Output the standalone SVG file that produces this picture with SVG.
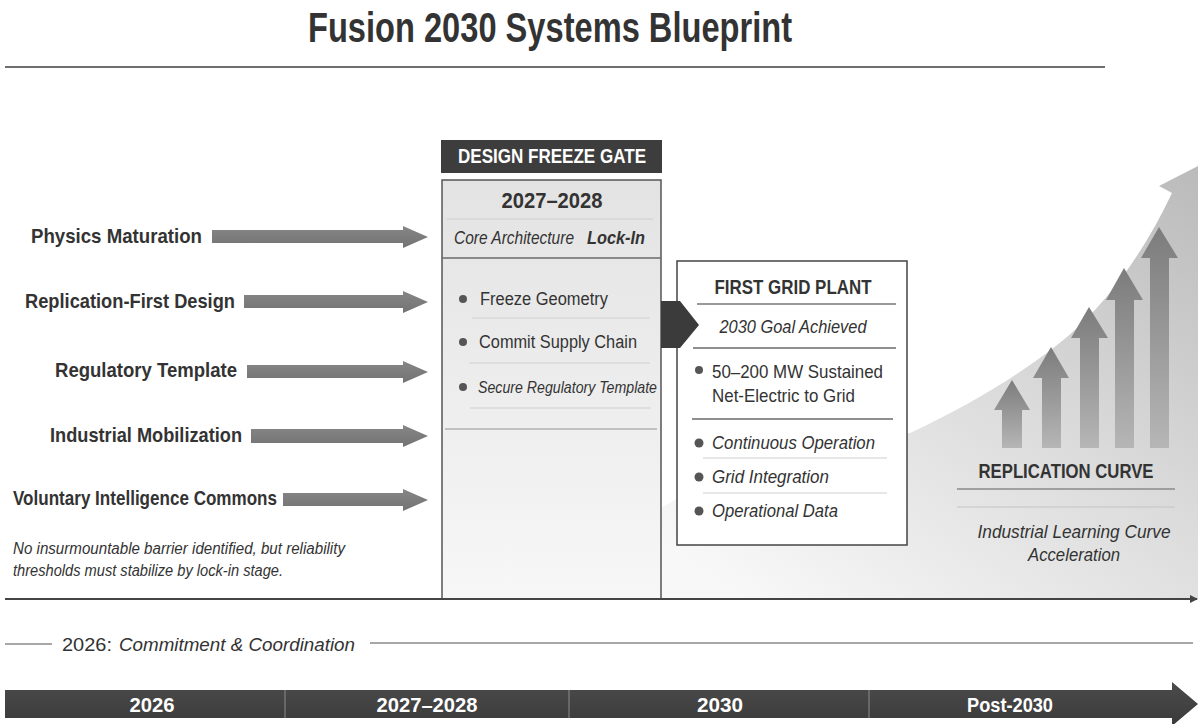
<svg xmlns="http://www.w3.org/2000/svg" width="1198" height="724" viewBox="0 0 1198 724">
  <defs>
    <style>
      .t { font-family: "Liberation Sans Narrow", "Liberation Sans", Arial, sans-serif; fill: #333333; }
      .b { font-weight: bold; }
      .i { font-style: italic; }
      .w { fill: #ffffff; }
      .rule-dark { stroke: #6a6a6a; stroke-width: 1.5; }
      .rule-light { stroke: #cfcfcf; stroke-width: 1.2; }
      .dot { fill: #555555; }
      .flow { fill: url(#shaftGrad); }
      .rise { fill: url(#riseGrad); }
    </style>
    <linearGradient id="shaftGrad" x1="0" y1="0" x2="0" y2="1">
      <stop offset="0" stop-color="#868686"/>
      <stop offset="1" stop-color="#737373"/>
    </linearGradient>
    <linearGradient id="gateGrad" x1="0" y1="0" x2="0" y2="1">
      <stop offset="0" stop-color="#e3e3e3"/>
      <stop offset="1" stop-color="#f7f7f7"/>
    </linearGradient>
    <linearGradient id="swooshGrad" x1="1" y1="0" x2="0.15" y2="1">
      <stop offset="0" stop-color="#bababa"/>
      <stop offset="0.5" stop-color="#dcdcdc"/>
      <stop offset="1" stop-color="#f8f8f8"/>
    </linearGradient>
    <linearGradient id="riseGrad" x1="0" y1="0" x2="0" y2="1">
      <stop offset="0" stop-color="#7c7c7c"/>
      <stop offset="1" stop-color="#b6b6b6"/>
    </linearGradient>
    <linearGradient id="barGrad" x1="0" y1="0" x2="0" y2="1">
      <stop offset="0" stop-color="#4b4b4b"/>
      <stop offset="1" stop-color="#3a3a3a"/>
    </linearGradient>
    <marker id="axisHead" markerWidth="8" markerHeight="8" refX="7" refY="4" orient="auto" markerUnits="userSpaceOnUse">
      <path d="M0,0 L8,4 L0,8 Z" fill="#444444"/>
    </marker>
  </defs>

  <rect width="1198" height="724" fill="#ffffff"/>

  <!-- title -->
  <g id="title">
    <text class="t b" x="550" y="42" font-size="42" text-anchor="middle" textLength="484" lengthAdjust="spacingAndGlyphs">Fusion 2030 Systems Blueprint</text>
    <line x1="5" y1="67" x2="1105" y2="67" stroke="#6e6e6e" stroke-width="2"/>
  </g>

  <!-- rising swoosh behind the right half -->
  <g id="replication-swoosh">
    <path d="M661,599 L661,508 C720,470 820,445 910,433 C970,405 1025,372 1067,337 C1110,300 1145,250 1172,193 L1159,186 L1198,166 L1200,166 L1200,599 Z" fill="url(#swooshGrad)"/>
  </g>

  <!-- driver labels -->
  <g id="driver-physics">
    <text class="t b" x="202" y="243" font-size="21" text-anchor="end" textLength="171" lengthAdjust="spacingAndGlyphs">Physics Maturation</text>
  </g>
  <g id="driver-replication">
    <text class="t b" x="235" y="308" font-size="21" text-anchor="end" textLength="210" lengthAdjust="spacingAndGlyphs">Replication-First Design</text>
  </g>
  <g id="driver-regulatory">
    <text class="t b" x="237" y="377" font-size="21" text-anchor="end" textLength="182" lengthAdjust="spacingAndGlyphs">Regulatory Template</text>
  </g>
  <g id="driver-industrial">
    <text class="t b" x="242" y="442" font-size="21" text-anchor="end" textLength="192" lengthAdjust="spacingAndGlyphs">Industrial Mobilization</text>
  </g>
  <g id="driver-commons">
    <text class="t b" x="277" y="505" font-size="21" text-anchor="end" textLength="264" lengthAdjust="spacingAndGlyphs">Voluntary Intelligence Commons</text>
  </g>
  <g id="note">
    <text class="t i" x="13" y="554" font-size="16" textLength="332" lengthAdjust="spacingAndGlyphs">No insurmountable barrier identified, but reliability</text>
    <text class="t i" x="13" y="576" font-size="16" textLength="270" lengthAdjust="spacingAndGlyphs">thresholds must stabilize by lock-in stage.</text>
  </g>

  <!-- design freeze gate -->
  <g id="design-freeze-gate">
    <rect x="441" y="140" width="221" height="33" fill="#3d3d3d"/>
    <text class="t b w" x="552" y="163" font-size="21" text-anchor="middle" textLength="188" lengthAdjust="spacingAndGlyphs">DESIGN FREEZE GATE</text>
    <rect x="442" y="180" width="219" height="419" fill="url(#gateGrad)" stroke="#555555" stroke-width="1.5"/>
    <text class="t b" x="552" y="208" font-size="22" text-anchor="middle" textLength="101" lengthAdjust="spacingAndGlyphs">2027–2028</text>
    <line class="rule-light" x1="447" y1="219" x2="653" y2="219" stroke="#b8b8b8"/>
    <text class="t i" x="454" y="244" font-size="18" textLength="120" lengthAdjust="spacingAndGlyphs">Core Architecture</text>
    <text class="t i b" x="587" y="244" font-size="18" textLength="58" lengthAdjust="spacingAndGlyphs">Lock-In</text>
    <line class="rule-dark" x1="442" y1="258" x2="661" y2="258"/>
    <circle class="dot" cx="463" cy="299" r="4"/>
    <text class="t" x="480" y="305" font-size="18" textLength="128" lengthAdjust="spacingAndGlyphs">Freeze Geometry</text>
    <line class="rule-light" x1="472" y1="318" x2="650" y2="318"/>
    <circle class="dot" cx="463" cy="342" r="4"/>
    <text class="t" x="479" y="348" font-size="18" textLength="158" lengthAdjust="spacingAndGlyphs">Commit Supply Chain</text>
    <line class="rule-light" x1="469" y1="363" x2="650" y2="363"/>
    <circle class="dot" cx="463" cy="387" r="4"/>
    <text class="t i" x="478" y="393" font-size="17" textLength="179" lengthAdjust="spacingAndGlyphs">Secure Regulatory Template</text>
    <line class="rule-light" x1="470" y1="408" x2="651" y2="408"/>
    <line x1="445" y1="429" x2="657" y2="429" stroke="#b0b0b0" stroke-width="1.5"/>
  </g>

  <!-- first grid plant -->
  <g id="first-grid-plant">
    <rect x="677" y="261" width="230" height="284" fill="#ffffff" stroke="#444444" stroke-width="1.5"/>
    <text class="t b" x="793" y="294" font-size="20" text-anchor="middle" textLength="157" lengthAdjust="spacingAndGlyphs">FIRST GRID PLANT</text>
    <line x1="697" y1="304" x2="896" y2="304" stroke="#777777" stroke-width="1.3"/>
    <text class="t i" x="793" y="333" font-size="19" text-anchor="middle" textLength="147" lengthAdjust="spacingAndGlyphs">2030 Goal Achieved</text>
    <line class="rule-dark" x1="693" y1="348" x2="896" y2="348"/>
    <circle class="dot" cx="699" cy="370" r="4"/>
    <text class="t" x="712" y="378" font-size="19" textLength="171" lengthAdjust="spacingAndGlyphs">50–200 MW Sustained</text>
    <text class="t" x="712" y="402" font-size="19" textLength="143" lengthAdjust="spacingAndGlyphs">Net-Electric to Grid</text>
    <line class="rule-dark" x1="692" y1="419" x2="893" y2="419"/>
    <circle class="dot" cx="699" cy="443" r="4.5"/>
    <text class="t i" x="712" y="449" font-size="18" textLength="163" lengthAdjust="spacingAndGlyphs">Continuous Operation</text>
    <line class="rule-light" x1="703" y1="458" x2="887" y2="458" stroke="#e0e0e0"/>
    <circle class="dot" cx="699" cy="477" r="4.5"/>
    <text class="t i" x="712" y="483" font-size="18" textLength="117" lengthAdjust="spacingAndGlyphs">Grid Integration</text>
    <line class="rule-light" x1="703" y1="493" x2="887" y2="493" stroke="#e0e0e0"/>
    <circle class="dot" cx="699" cy="511" r="4.5"/>
    <text class="t i" x="712" y="517" font-size="18" textLength="126" lengthAdjust="spacingAndGlyphs">Operational Data</text>
  </g>

  <!-- replication curve -->
  <g id="replication-curve">
    <path class="rise" d="M1002,448 L1002,410 L994,410 L1012,380 L1030,410 L1022,410 L1022,448 Z"/>
    <path class="rise" d="M1042,448 L1042,378 L1033,378 L1051,347 L1069,378 L1061,378 L1061,448 Z"/>
    <path class="rise" d="M1080,448 L1080,338 L1071,338 L1089,307 L1108,338 L1099,338 L1099,448 Z"/>
    <path class="rise" d="M1115,448 L1115,300 L1106,300 L1124,268 L1143,300 L1134,300 L1134,448 Z"/>
    <path class="rise" d="M1150,448 L1150,258 L1141,258 L1159,227 L1178,258 L1169,258 L1169,448 Z"/>
    <text class="t b" x="1066" y="478" font-size="21" text-anchor="middle" textLength="175" lengthAdjust="spacingAndGlyphs">REPLICATION CURVE</text>
    <line x1="957" y1="489" x2="1175" y2="489" stroke="#8a8a8a" stroke-width="1.3"/>
    <line x1="957" y1="507" x2="1175" y2="507" stroke="#c4c4c4" stroke-width="1.2"/>
    <text class="t i" x="1074" y="538" font-size="18" text-anchor="middle" textLength="193" lengthAdjust="spacingAndGlyphs">Industrial Learning Curve</text>
    <text class="t i" x="1074" y="561" font-size="18" text-anchor="middle" textLength="92" lengthAdjust="spacingAndGlyphs">Acceleration</text>
  </g>

  <!-- connectors -->
  <g id="connectors">
    <path class="flow" d="M212,230 L403,230 L403,226 L428,237 L403,248 L403,243 L212,243 Z"/>
    <path class="flow" d="M244,295 L403,295 L403,291 L428,302 L403,313 L403,308 L244,308 Z"/>
    <path class="flow" d="M247,365 L403,365 L403,361 L428,372 L403,383 L403,378 L247,378 Z"/>
    <path class="flow" d="M251,429 L403,429 L403,425 L428,436 L403,447 L403,443 L251,443 Z"/>
    <path class="flow" d="M283,493 L403,493 L403,489 L428,500 L403,511 L403,506 L283,506 Z"/>
    <path d="M661,301 L680,301 L699,325 L680,348 L661,348 Z" fill="#3b3b3b"/>
    <line x1="5" y1="599" x2="1197" y2="599" stroke="#444444" stroke-width="2" marker-end="url(#axisHead)"/>
  </g>

  <!-- phase line -->
  <g id="phase-2026">
    <line x1="5" y1="644" x2="52" y2="644" stroke="#8a8a8a" stroke-width="1.5"/>
    <text class="t" x="62" y="651" font-size="19" textLength="50" lengthAdjust="spacingAndGlyphs">2026:</text>
    <text class="t i" x="119" y="651" font-size="19" textLength="236" lengthAdjust="spacingAndGlyphs">Commitment &amp; Coordination</text>
    <line x1="370" y1="643" x2="1193" y2="643" stroke="#8a8a8a" stroke-width="1.5"/>
  </g>

  <!-- timeline bar -->
  <g id="timeline">
    <path d="M5,690 L1172,690 L1172,682 L1198,704 L1172,726 L1172,718 L5,718 Z" fill="url(#barGrad)"/>
    <line x1="285" y1="690" x2="285" y2="718" stroke="#8c8c8c" stroke-width="1"/>
    <line x1="569" y1="690" x2="569" y2="718" stroke="#8c8c8c" stroke-width="1"/>
    <line x1="869" y1="690" x2="869" y2="718" stroke="#8c8c8c" stroke-width="1"/>
    <text class="t b w" x="152" y="712" font-size="20" text-anchor="middle" textLength="45" lengthAdjust="spacingAndGlyphs">2026</text>
    <text class="t b w" x="427" y="712" font-size="20" text-anchor="middle" textLength="101" lengthAdjust="spacingAndGlyphs">2027–2028</text>
    <text class="t b w" x="720" y="712" font-size="20" text-anchor="middle" textLength="46" lengthAdjust="spacingAndGlyphs">2030</text>
    <text class="t b w" x="1010" y="712" font-size="20" text-anchor="middle" textLength="86" lengthAdjust="spacingAndGlyphs">Post-2030</text>
  </g>
</svg>
